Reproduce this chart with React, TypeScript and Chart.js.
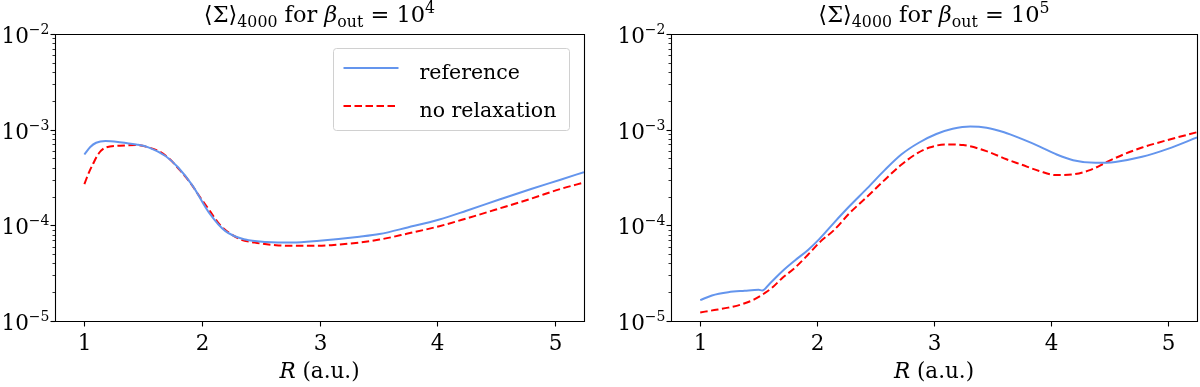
import React, { useEffect, useRef } from "react";
import { Chart, registerables } from "chart.js";

Chart.register(...registerables);

// ---------- data ----------
// Left panel: beta_out = 10^4
const rLeftReference = [1.0, 1.05, 1.1, 1.18, 1.3, 1.44, 1.55, 1.69, 1.8, 1.92, 2.06, 2.2, 2.37, 2.55, 2.77, 3.0, 3.34, 3.51, 3.75, 4.02, 4.25, 4.53, 4.8, 5.05, 5.25];
const sigmaLeftReference = [5.5e-4, 6.6e-4, 7.3e-4, 7.6e-4, 7.4e-4, 7.0e-4, 6.5e-4, 5.3e-4, 4.0e-4, 2.6e-4, 1.36e-4, 8.7e-5, 7.1e-5, 6.7e-5, 6.6e-5, 6.9e-5, 7.6e-5, 8.1e-5, 9.5e-5, 1.15e-4, 1.42e-4, 1.86e-4, 2.4e-4, 3.0e-4, 3.6e-4];

const rLeftNoRelax = [1.0, 1.04, 1.07, 1.12, 1.18, 1.3, 1.44, 1.55, 1.64, 1.72, 1.81, 1.9, 1.98, 2.07, 2.15, 2.32, 2.45, 2.63, 2.83, 3.1, 3.51, 3.75, 4.02, 4.25, 4.53, 4.8, 5.05, 5.25];
const sigmaLeftNoRelax = [2.7e-4, 3.6e-4, 4.3e-4, 5.6e-4, 6.5e-4, 6.8e-4, 6.9e-4, 6.5e-4, 5.9e-4, 5.0e-4, 3.8e-4, 2.8e-4, 2.0e-4, 1.4e-4, 1.02e-4, 7.2e-5, 6.6e-5, 6.2e-5, 6.1e-5, 6.2e-5, 7.1e-5, 8.2e-5, 9.8e-5, 1.18e-4, 1.5e-4, 1.9e-4, 2.4e-4, 2.8e-4];

// Right panel: beta_out = 10^5
const rRightReference = [1.0, 1.1, 1.24, 1.38, 1.5, 1.53, 1.6, 1.7, 1.81, 1.92, 2.01, 2.14, 2.28, 2.43, 2.58, 2.72, 2.87, 3.02, 3.16, 3.31, 3.45, 3.6, 3.75, 3.9, 4.05, 4.19, 4.38, 4.55, 4.78, 5.0, 5.25];
const sigmaRightReference = [1.65e-5, 1.85e-5, 2.0e-5, 2.07e-5, 2.12e-5, 2.08e-5, 2.5e-5, 3.3e-5, 4.3e-5, 5.5e-5, 7.0e-5, 1.05e-4, 1.6e-4, 2.45e-4, 3.8e-4, 5.5e-4, 7.3e-4, 9.0e-4, 1.02e-3, 1.08e-3, 1.05e-3, 9.4e-4, 8.0e-4, 6.7e-4, 5.5e-4, 4.8e-4, 4.5e-4, 4.6e-4, 5.2e-4, 6.3e-4, 8.3e-4];

const rRightNoRelax = [1.0, 1.12, 1.24, 1.36, 1.47, 1.55, 1.61, 1.7, 1.81, 1.92, 2.03, 2.14, 2.28, 2.43, 2.58, 2.72, 2.85, 2.96, 3.1, 3.25, 3.46, 3.62, 3.75, 3.9, 4.04, 4.18, 4.34, 4.48, 4.62, 4.78, 5.0, 5.25];
const sigmaRightNoRelax = [1.23e-5, 1.3e-5, 1.38e-5, 1.5e-5, 1.7e-5, 1.95e-5, 2.2e-5, 2.8e-5, 3.6e-5, 4.9e-5, 6.8e-5, 8.8e-5, 1.35e-4, 2.0e-4, 3.0e-4, 4.3e-4, 5.6e-4, 6.5e-4, 7.0e-4, 6.9e-4, 5.9e-4, 4.9e-4, 4.3e-4, 3.7e-4, 3.35e-4, 3.4e-4, 3.8e-4, 4.6e-4, 5.5e-4, 6.5e-4, 7.8e-4, 9.4e-4];

const xTickValues = [1, 2, 3, 4, 5];
const xTickLabels = ["1", "2", "3", "4", "5"];
const yDecadeValues = [1e-5, 1e-4, 1e-3, 1e-2];
const yDecadeExponents = ["−5", "−4", "−3", "−2"];
const seriesLabels = ["reference", "no relaxation"];
const titleExponents = ["4", "5"];
const xAxisLabelItalic = "R";
const xAxisLabelRest = " (a.u.)";

// ---------- styling ----------
const FAMILY = '"DejaVu Serif", serif';
const FS_LEGEND = 20.5;
const FS_TICK = 21.5;
const FS_TITLE = 22.5;
const BLUE = "#6495ED";
const RED = "#FF0000";

type Part = { t: string; size: number; italic?: boolean; dy?: number };

function fontFor(p: Part) {
  return `${p.italic ? "italic " : ""}${p.size}px ${FAMILY}`;
}

function drawRich(ctx: CanvasRenderingContext2D, parts: Part[], x: number, y: number, align: "left" | "center" | "right") {
  const widths = parts.map((p) => {
    ctx.font = fontFor(p);
    return ctx.measureText(p.t).width;
  });
  const total = widths.reduce((a, b) => a + b, 0);
  let cx = align === "center" ? x - total / 2 : align === "right" ? x - total : x;
  ctx.textAlign = "left";
  ctx.textBaseline = "alphabetic";
  parts.forEach((p, i) => {
    ctx.font = fontFor(p);
    ctx.fillText(p.t, cx, y + (p.dy ?? 0));
    cx += widths[i];
  });
}

const decorPlugin = {
  id: "decor",
  afterDraw(chart: any, _args: any, opts: any) {
    const ctx: CanvasRenderingContext2D = chart.ctx;
    const area = chart.chartArea;
    const xs = chart.scales.x;
    const ys = chart.scales.y;
    const L = Math.round(area.left) + 0.5;
    const R = Math.round(area.right) + 0.5;
    const T = Math.round(area.top) + 0.5;
    const B = Math.round(area.bottom) + 0.5;
    ctx.save();
    ctx.fillStyle = "#000";
    ctx.strokeStyle = "#000";

    // frame
    ctx.lineWidth = 1.1;
    ctx.beginPath();
    ctx.rect(L, T, R - L, B - T);
    ctx.stroke();

    // x ticks + labels
    xTickValues.forEach((v, i) => {
      const px = Math.round(xs.getPixelForValue(v)) + 0.5;
      ctx.lineWidth = 1.1;
      ctx.beginPath();
      ctx.moveTo(px, B);
      ctx.lineTo(px, B + 5);
      ctx.stroke();
      drawRich(ctx, [{ t: xTickLabels[i], size: FS_TICK }], px, B + 28.5, "center");
    });

    // y ticks (major decades + minor)
    yDecadeValues.forEach((v, i) => {
      const py = Math.round(ys.getPixelForValue(v)) + 0.5;
      ctx.lineWidth = 1.1;
      ctx.beginPath();
      ctx.moveTo(L - 5, py);
      ctx.lineTo(L, py);
      ctx.stroke();
      drawRich(
        ctx,
        [
          { t: "10", size: FS_TICK },
          { t: yDecadeExponents[i], size: 14, dy: -9.5 },
        ],
        L - 6,
        py + 8.5,
        "right"
      );
      if (i < yDecadeValues.length - 1) {
        for (let k = 2; k <= 9; k++) {
          const pm = Math.round(ys.getPixelForValue(v * k)) + 0.5;
          ctx.lineWidth = 0.8;
          ctx.beginPath();
          ctx.moveTo(L - 3, pm);
          ctx.lineTo(L, pm);
          ctx.stroke();
        }
      }
    });

    // x axis label
    const cx = (area.left + area.right) / 2;
    drawRich(
      ctx,
      [
        { t: xAxisLabelItalic, size: FS_TICK, italic: true },
        { t: xAxisLabelRest, size: FS_TICK },
      ],
      cx,
      B + 56,
      "center"
    );

    // title
    const sub = FS_TITLE * 0.7;
    drawRich(
      ctx,
      [
        { t: "⟨Σ⟩", size: FS_TITLE },
        { t: "4000", size: sub, dy: 4.5 },
        { t: " for ", size: FS_TITLE },
        { t: "β", size: FS_TITLE, italic: true },
        { t: "out", size: sub, dy: 4.5 },
        { t: " = 10", size: FS_TITLE },
        { t: opts.exponent, size: sub, dy: -9.5 },
      ],
      cx,
      T - 12.5,
      "center"
    );

    // legend
    if (opts.showLegend) {
      const bx = 333.5;
      const by = 48.5;
      const bw = R - 15 - bx;
      const bh = 82;
      ctx.beginPath();
      ctx.roundRect(bx, by, bw, bh, 3);
      ctx.fillStyle = "rgba(255,255,255,0.8)";
      ctx.fill();
      ctx.strokeStyle = "#d0d0d0";
      ctx.lineWidth = 1;
      ctx.stroke();
      const rows = [68, 106];
      chart.data.datasets.forEach((ds: any, i: number) => {
        const y = rows[i];
        ctx.beginPath();
        ctx.setLineDash(ds.borderDash || []);
        ctx.strokeStyle = ds.borderColor;
        ctx.lineWidth = ds.borderWidth;
        ctx.moveTo(bx + 10, y);
        ctx.lineTo(bx + 65, y);
        ctx.stroke();
        ctx.setLineDash([]);
        ctx.fillStyle = "#000";
        drawRich(ctx, [{ t: ds.label, size: FS_LEGEND }], bx + 86, y + 10.5, "left");
      });
    }
    ctx.restore();
  },
};

type PanelProps = {
  rRef: number[];
  sRef: number[];
  rNo: number[];
  sNo: number[];
  exponent: string;
  showLegend: boolean;
  left: number;
  pad: { left: number; right: number; top: number; bottom: number };
};

function Panel(props: PanelProps) {
  const ref = useRef<HTMLCanvasElement | null>(null);
  useEffect(() => {
    if (!ref.current) return;
    const chart = new Chart(ref.current, {
      type: "line",
      data: {
        datasets: [
          {
            label: seriesLabels[0],
            data: props.rRef.map((x, i) => ({ x, y: props.sRef[i] })),
            borderColor: BLUE,
            borderWidth: 2,
            pointRadius: 0,
            cubicInterpolationMode: "monotone",
            fill: false,
          },
          {
            label: seriesLabels[1],
            data: props.rNo.map((x, i) => ({ x, y: props.sNo[i] })),
            borderColor: RED,
            borderWidth: 2,
            borderDash: [7.5, 3.5],
            pointRadius: 0,
            cubicInterpolationMode: "monotone",
            fill: false,
          },
        ],
      },
      options: {
        animation: false,
        responsive: false,
        maintainAspectRatio: false,
        layout: { padding: props.pad },
        scales: {
          x: { type: "linear", min: 0.75, max: 5.25, display: false },
          y: { type: "logarithmic", min: 1e-5, max: 1e-2, display: false },
        },
        plugins: {
          legend: { display: false },
          tooltip: { enabled: false },
          decor: { exponent: props.exponent, showLegend: props.showLegend },
        } as any,
      },
      plugins: [decorPlugin],
    } as any);
    return () => chart.destroy();
  }, []);
  return (
    <canvas
      ref={ref}
      width={600}
      height={387}
      style={{ position: "absolute", left: props.left, top: 0, width: 600, height: 387 }}
    />
  );
}

export default function App() {
  useEffect(() => {
    document.body.style.margin = "0";
  }, []);
  return (
    <div style={{ position: "absolute", left: 0, top: 0, width: 1200, height: 387, background: "#fff" }}>
      <Panel
        rRef={rLeftReference}
        sRef={sigmaLeftReference}
        rNo={rLeftNoRelax}
        sNo={sigmaLeftNoRelax}
        exponent={titleExponents[0]}
        showLegend={true}
        left={0}
        pad={{ left: 55, right: 16, top: 34, bottom: 66 }}
      />
      <Panel
        rRef={rRightReference}
        sRef={sigmaRightReference}
        rNo={rRightNoRelax}
        sNo={sigmaRightNoRelax}
        exponent={titleExponents[1]}
        showLegend={false}
        left={600}
        pad={{ left: 71, right: 3, top: 34, bottom: 66 }}
      />
    </div>
  );
}
